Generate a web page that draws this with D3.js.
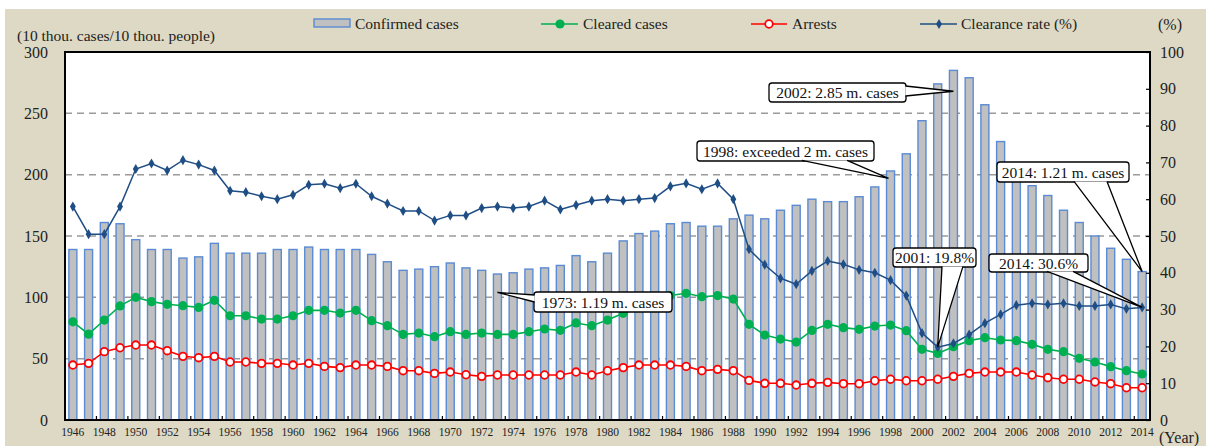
<!DOCTYPE html>
<html>
<head>
<meta charset="utf-8">
<script src="https://cdn.jsdelivr.net/npm/d3@7"></script>
<style>
  body { margin: 0; background: #fff; }
  svg { display: block; }
</style>
</head>
<body>
<div id="chart"></div>
<script>
// years 1946-2014
var years = d3.range(1946, 2015);

// confirmed cases (10 thou. cases)
var confirmed = [139,139,161,160,147,139,139,132,133,144,
                 136,136,136,139,139,141,139,139,139,135,
                 129,122,123,125,128,124,122,119,120,123,
                 124,126,134,129,136,146,152,154,160,161,
                 158,158,164,167,164,171,175,180,178,178,
                 182,190,203,217,244,274,285,279,257,227,
                 205,191,183,171,161,150,140,131,121];

// cleared cases (10 thou. cases)
var cleared = [80,70,81.5,93,100,96.5,94.3,93.2,91.8,97.6,
               85,85,82.3,82.3,85,89.4,89.4,87.2,89.4,81,
               76.9,69.8,70.9,67.9,72,69.8,70.9,69.8,69.8,72,
               74.2,73.1,79.1,76.9,81.5,87,92,96,101.5,103.3,
               100.5,101.4,98.6,78,69.3,66,63.5,73,78,75.3,
               73.9,76.6,77.4,72.8,57.6,54.3,59.8,64.7,67.1,65.2,
               64.7,61.7,57.6,55.7,50.3,47.3,43.5,40.2,37.5];

// arrests (10 thou. people)
var arrests = [44.8,46.2,55.7,58.9,61.1,61.1,56.5,51.9,50.8,51.9,
               47.3,47.3,46.2,46.2,44.8,46.2,43.7,42.7,44.8,44.8,
               43.7,40.2,40.2,38,39.1,36.9,35.6,36.7,36.7,36.7,
               36.7,36.7,39.1,36.7,40.2,42.7,44.8,44.8,44.8,43.7,
               40.2,41.3,40.2,32.3,29.9,29.9,28.5,29.9,30.7,29.6,
               29.6,32,33.2,32,32,33.2,35.6,38,39.1,39.1,
               39.1,36.7,34.5,33.2,33.2,31,29.6,26.3,26.3];

// clearance rate (%)
var rate = [58,50.5,50.5,58,68.2,69.7,67.8,70.6,69.4,67.8,
            62.3,61.9,60.8,60,61.2,63.9,64.2,63,64.2,60.8,
            58.8,56.8,56.8,54.2,55.6,55.6,57.6,58,57.6,58,
            59.6,57.2,58.4,59.6,60,59.6,60,60.3,63.5,64.3,
            62.7,64.3,60,46.4,42.2,38.5,36.9,40.5,43.2,42.3,
            40.8,40,38,33.8,23.6,19.8,20.8,23.2,26.3,28.7,
            31.2,31.7,31.4,31.7,31,31,31.4,30.2,30.6];

var leftTicks = [0, 50, 100, 150, 200, 250, 300];
var rightTicks = [0, 10, 20, 30, 40, 50, 60, 70, 80, 90, 100];
var yearLabels = years.filter(function(y) { return y % 2 === 0; });

var W = 1206, H = 446;
var margin = {top: 52, right: 56, bottom: 26, left: 65};
var serif = "'Liberation Serif', 'Times New Roman', Times, serif";

var svg = d3.select("#chart").append("svg")
    .attr("width", W)
    .attr("height", H)
    .attr("font-family", serif);

// beige frame
svg.append("rect")
    .attr("x", 5).attr("y", 9)
    .attr("width", W - 5).attr("height", H - 9)
    .attr("fill", "#ddd9c4");

var x = d3.scaleBand().domain(years).range([margin.left, W - margin.right]).padding(0);
var yL = d3.scaleLinear().domain([0, 300]).range([H - margin.bottom, margin.top]);
var yR = d3.scaleLinear().domain([0, 100]).range([H - margin.bottom, margin.top]);
var cx = function(yr) { return x(yr) + x.bandwidth() / 2; };

// plot area
svg.append("rect")
    .attr("x", margin.left).attr("y", margin.top)
    .attr("width", W - margin.right - margin.left)
    .attr("height", H - margin.bottom - margin.top)
    .attr("fill", "#fff");

// gridlines
svg.append("g").selectAll("line")
    .data(leftTicks.filter(function(d) { return d > 0 && d < 300; }))
    .join("line")
    .attr("x1", margin.left).attr("x2", W - margin.right)
    .attr("y1", function(d) { return yL(d); })
    .attr("y2", function(d) { return yL(d); })
    .attr("stroke", "#9a9a9a")
    .attr("stroke-width", 1.5)
    .attr("stroke-dasharray", "7,5");

// bars
var bw = 8;
svg.append("g").selectAll("rect")
    .data(years)
    .join("rect")
    .attr("x", function(d) { return cx(d) - bw / 2; })
    .attr("y", function(d, i) { return yL(confirmed[i]); })
    .attr("width", bw)
    .attr("height", function(d, i) { return yL(0) - yL(confirmed[i]); })
    .attr("fill", "#c0c0c0")
    .attr("stroke", "#5a8bd4")
    .attr("stroke-width", 1.4);

// cleared cases
svg.append("path")
    .datum(cleared)
    .attr("fill", "none")
    .attr("stroke", "#00b050")
    .attr("stroke-width", 1.6)
    .attr("d", d3.line().x(function(d, i) { return cx(years[i]); }).y(function(d) { return yL(d); }));
svg.append("g").selectAll("circle")
    .data(cleared)
    .join("circle")
    .attr("cx", function(d, i) { return cx(years[i]); })
    .attr("cy", function(d) { return yL(d); })
    .attr("r", 4.6)
    .attr("fill", "#00b050");

// arrests
svg.append("path")
    .datum(arrests)
    .attr("fill", "none")
    .attr("stroke", "#ff0000")
    .attr("stroke-width", 1.6)
    .attr("d", d3.line().x(function(d, i) { return cx(years[i]); }).y(function(d) { return yL(d); }));
svg.append("g").selectAll("circle")
    .data(arrests)
    .join("circle")
    .attr("cx", function(d, i) { return cx(years[i]); })
    .attr("cy", function(d) { return yL(d); })
    .attr("r", 3.8)
    .attr("fill", "#fff")
    .attr("stroke", "#ff0000")
    .attr("stroke-width", 1.8);

// clearance rate
svg.append("path")
    .datum(rate)
    .attr("fill", "none")
    .attr("stroke", "#1f4e85")
    .attr("stroke-width", 1.5)
    .attr("d", d3.line().x(function(d, i) { return cx(years[i]); }).y(function(d) { return yR(d); }));
svg.append("g").selectAll("path")
    .data(rate)
    .join("path")
    .attr("transform", function(d, i) { return "translate(" + cx(years[i]) + "," + yR(d) + ")"; })
    .attr("d", d3.symbol().type(d3.symbolDiamond).size(30))
    .attr("fill", "#1f4e85");

// frame of plot
svg.append("rect")
    .attr("x", margin.left).attr("y", margin.top)
    .attr("width", W - margin.right - margin.left)
    .attr("height", H - margin.bottom - margin.top)
    .attr("fill", "none")
    .attr("stroke", "#000")
    .attr("stroke-width", 2);

// bottom ticks at every second band boundary
svg.append("g").selectAll("line")
    .data(years.filter(function(d) { return d % 2 === 0 && d > 1946; }))
    .join("line")
    .attr("x1", function(d) { return x(d); })
    .attr("x2", function(d) { return x(d); })
    .attr("y1", yL(0)).attr("y2", yL(0) - 4)
    .attr("stroke", "#000").attr("stroke-width", 1.2);

// axes
var gx = svg.append("g")
    .attr("transform", "translate(0," + yL(0) + ")")
    .call(d3.axisBottom(x).tickValues(yearLabels).tickSize(0).tickPadding(8));
gx.attr("font-family", serif).attr("font-size", 11.5);
gx.select(".domain").remove();
gx.selectAll("text").attr("fill", "#222");

var gl = svg.append("g")
    .attr("transform", "translate(" + margin.left + ",0)")
    .call(d3.axisLeft(yL).tickValues(leftTicks).tickSize(0).tickPadding(17));
gl.attr("font-family", serif).attr("font-size", 16);
gl.select(".domain").remove();
gl.selectAll("text").attr("fill", "#222");

var gr = svg.append("g")
    .attr("transform", "translate(" + (W - margin.right) + ",0)")
    .call(d3.axisRight(yR).tickValues(rightTicks).tickSizeInner(-4).tickSizeOuter(0).tickPadding(10));
gr.attr("font-family", serif).attr("font-size", 16);
gr.select(".domain").remove();
gr.selectAll("line").attr("stroke", "#000").attr("stroke-width", 1.2);
gr.selectAll("text").attr("fill", "#222");

// axis titles
svg.append("text").attr("x", 17).attr("y", 41)
    .attr("font-size", 15.5).attr("fill", "#222")
    .text("(10 thou. cases/10 thou. people)");
svg.append("text").attr("x", 1158).attr("y", 30)
    .attr("font-size", 16).attr("fill", "#222")
    .text("(%)");
svg.append("text").attr("x", 1159).attr("y", 443)
    .attr("font-size", 16).attr("fill", "#222")
    .text("(Year)");

// legend
var lg = svg.append("g").attr("font-size", 15.5).attr("fill", "#222");
lg.append("rect").attr("x", 314).attr("y", 19).attr("width", 36).attr("height", 8)
    .attr("fill", "#c0c0c0").attr("stroke", "#5a8bd4").attr("stroke-width", 1.4);
lg.append("text").attr("x", 355).attr("y", 29).text("Confirmed cases");

lg.append("line").attr("x1", 541).attr("x2", 578).attr("y1", 24).attr("y2", 24)
    .attr("stroke", "#00b050").attr("stroke-width", 1.6);
lg.append("circle").attr("cx", 560).attr("cy", 24).attr("r", 4.6).attr("fill", "#00b050");
lg.append("text").attr("x", 583).attr("y", 29).text("Cleared cases");

lg.append("line").attr("x1", 751).attr("x2", 787).attr("y1", 24).attr("y2", 24)
    .attr("stroke", "#ff0000").attr("stroke-width", 1.6);
lg.append("circle").attr("cx", 769).attr("cy", 24).attr("r", 3.8)
    .attr("fill", "#fff").attr("stroke", "#ff0000").attr("stroke-width", 1.8);
lg.append("text").attr("x", 792).attr("y", 29).text("Arrests");

lg.append("line").attr("x1", 920).attr("x2", 957).attr("y1", 24).attr("y2", 24)
    .attr("stroke", "#1f4e85").attr("stroke-width", 1.5);
lg.append("path").attr("transform", "translate(939,24)")
    .attr("d", d3.symbol().type(d3.symbolDiamond).size(30)).attr("fill", "#1f4e85");
lg.append("text").attr("x", 961).attr("y", 29).text("Clearance rate (%)");

// callouts
function callout(label, bx, by, bw, bh, b1, b2, tip) {
  var g = svg.append("g");
  g.append("rect")
    .attr("x", bx).attr("y", by).attr("width", bw).attr("height", bh)
    .attr("rx", 3)
    .attr("fill", "#fff").attr("stroke", "#000").attr("stroke-width", 1.3);
  g.append("path")
    .attr("d", "M" + b1 + "L" + tip + "L" + b2 + "Z")
    .attr("fill", "#fff").attr("stroke", "none");
  g.append("path")
    .attr("d", "M" + b1 + "L" + tip + "L" + b2)
    .attr("fill", "none").attr("stroke", "#000").attr("stroke-width", 1.3);
  g.append("text")
    .attr("x", bx + bw / 2).attr("y", by + bh / 2 + 5.5)
    .attr("text-anchor", "middle")
    .attr("font-size", 15.5).attr("fill", "#111")
    .text(label);
}

callout("1973: 1.19 m. cases", 534, 292, 138, 20, [534.6, 295], [534.6, 302], [cx(1973), yL(104)]);
callout("2002: 2.85 m. cases", 769, 83, 137, 19, [905.4, 86], [905.4, 96], [cx(2002), yL(268)]);
callout("1998: exceeded 2 m. cases", 697, 141, 177, 20, [802, 160.4], [847, 160.4], [cx(1998) - 2, yL(197)]);
callout("2001: 19.8%", 893, 248, 83, 19, [942, 266.4], [963, 266.4], [cx(2001), yR(19.8)]);
callout("2014: 30.6%", 989, 254, 99, 18, [1047, 271.4], [1073, 271.4], [cx(2014), yR(30.6)]);
callout("2014: 1.21 m. cases", 997, 162, 132, 20, [1074, 181.4], [1107, 181.4], [cx(2014), yL(121)]);
</script>
</body>
</html>
